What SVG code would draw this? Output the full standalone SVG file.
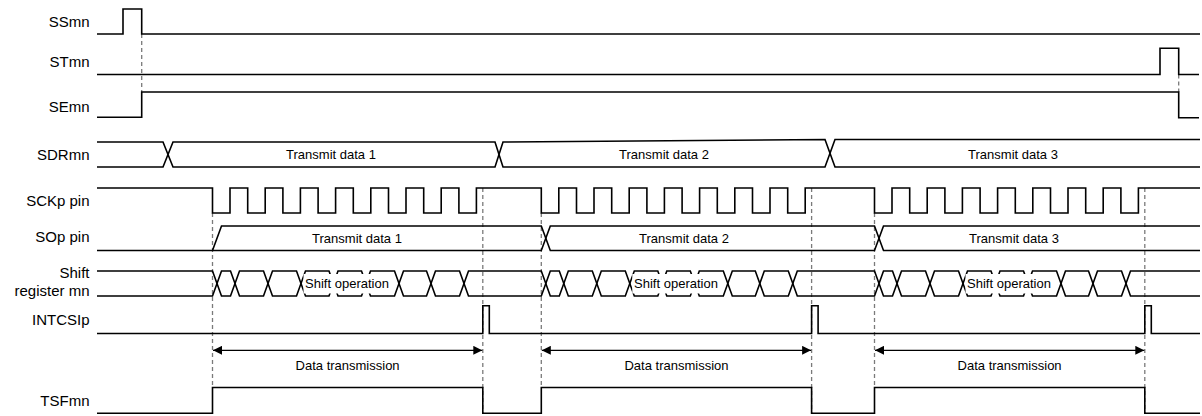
<svg xmlns="http://www.w3.org/2000/svg" width="1202" height="416" viewBox="0 0 1202 416">
<style>
.w{fill:none;stroke:#000;stroke-width:1.6;stroke-linejoin:miter}
.d{fill:none;stroke:#7a7a7a;stroke-width:1.3;stroke-dasharray:4 3}
.a{fill:none;stroke:#000;stroke-width:1.2}
.lb{font-family:"Liberation Sans",Arial,sans-serif;font-size:15px;fill:#000;text-anchor:end}
.tx{font-family:"Liberation Sans",Arial,sans-serif;font-size:13px;fill:#000;text-anchor:middle}
.bg{fill:#fff;stroke:none}
</style>
<defs>
<marker id="ah" viewBox="0 0 10 10" refX="10" refY="5" markerWidth="9" markerHeight="9" markerUnits="userSpaceOnUse" orient="auto-start-reverse">
<path d="M0,0 L10,5 L0,10 z" fill="#000"/>
</marker>
</defs>
<rect width="1202" height="416" fill="#fff"/>

<g id="connectors">
<line class="d" x1="141.7" y1="34" x2="141.7" y2="92"/>
<line class="d" x1="1178.7" y1="74.5" x2="1178.7" y2="92"/>
<line class="d" x1="212.5" y1="213" x2="212.5" y2="387.5"/>
<line class="d" x1="541.3" y1="213" x2="541.3" y2="387.5"/>
<line class="d" x1="874.5" y1="213" x2="874.5" y2="387.5"/>
<line class="d" x1="482.8" y1="188" x2="482.8" y2="413"/>
<line class="d" x1="811.6" y1="188" x2="811.6" y2="413"/>
<line class="d" x1="1144.8" y1="188" x2="1144.8" y2="413"/>
<line class="a" x1="213" y1="350.3" x2="482.3" y2="350.3" marker-start="url(#ah)" marker-end="url(#ah)"/>
<line class="a" x1="541.8" y1="350.3" x2="811.1" y2="350.3" marker-start="url(#ah)" marker-end="url(#ah)"/>
<line class="a" x1="875" y1="350.3" x2="1144.3" y2="350.3" marker-start="url(#ah)" marker-end="url(#ah)"/>
<text class="tx" x="347.6" y="370">Data transmission</text>
<text class="tx" x="676.5" y="370">Data transmission</text>
<text class="tx" x="1009.6" y="370">Data transmission</text>
</g>

<g id="SSmn">
<text class="lb" x="89.5" y="27">SSmn</text>
<path class="w" d="M97,34 H123 V9 H141.7 V34 H1200"/>
</g>

<g id="STmn">
<text class="lb" x="89.5" y="67">STmn</text>
<path class="w" d="M97,74.5 H1160 V48.3 H1178.7 V74.5 H1199"/>
</g>

<g id="SEmn">
<text class="lb" x="89.5" y="111.5">SEmn</text>
<path class="w" d="M97,117.3 H141.7 V92 H1178.7 V117.7 H1199"/>
</g>

<g id="SDRmn">
<text class="lb" x="89.5" y="159.5">SDRmn</text>
<path class="w" d="M97,142 H163 L173,167 H495 L503,142 L825,139.5 L835,167 H1200"/>
<path class="w" d="M97,167 H163 L173,142 H495 L503,167 H825 L835,139.5 H1200"/>
<text class="tx" x="331" y="159">Transmit data 1</text>
<text class="tx" x="664" y="159">Transmit data 2</text>
<text class="tx" x="1013" y="159">Transmit data 3</text>
</g>

<g id="SCKp">
<text class="lb" x="89.5" y="206">SCKp pin</text>
<path class="w" d="M97,188 H212.5 V213 H230 V188 H247.7 V213 H265.2 V188 H282.9 V213 H300.4 V188 H318.1 V213 H335.6 V188 H353.3 V213 H370.8 V188 H388.5 V213 H406 V188 H423.7 V213 H441.2 V188 H458.9 V213 H476.4 V188 H541.3 V213 H558.8 V188 H576.5 V213 H594 V188 H611.7 V213 H629.2 V188 H646.9 V213 H664.4 V188 H682.1 V213 H699.6 V188 H717.3 V213 H734.8 V188 H752.5 V213 H770 V188 H787.7 V213 H805.2 V188 H874.5 V213 H892 V188 H909.7 V213 H927.2 V188 H944.9 V213 H962.4 V188 H980.1 V213 H997.6 V188 H1015.3 V213 H1032.8 V188 H1050.5 V213 H1068 V188 H1085.7 V213 H1103.2 V188 H1120.9 V213 H1138.4 V188 H1200"/>
</g>

<g id="SOp">
<text class="lb" x="89.5" y="242">SOp pin</text>
<path class="w" d="M97,250.5 H212.5 L221.5,226 H541.3 L550.3,250.5 H874.5 L883.5,226 H1200"/>
<path class="w" d="M212.5,250.5 H541.3 L550.3,226 H874.5 L883.5,250.5 H1200"/>
<text class="tx" x="357" y="243">Transmit data 1</text>
<text class="tx" x="684" y="243">Transmit data 2</text>
<text class="tx" x="1014" y="243">Transmit data 3</text>
</g>

<g id="ShiftRegister">
<text class="lb" x="89.5" y="277.5">Shift</text>
<text class="lb" x="89.5" y="296">register mn</text>
<path class="w" d="M97,271 H212.5 L221.5,296 H230.5 L239.5,271 H263.5 L272.5,296 H296.5 L305.5,271 H329 L338,296 H361.5 L370.5,271 H394.5 L403.5,296 H426.5 L435.5,271 H459.5 L468.5,296 H541.3 L550.3,271 H559.3 L568.3,296 H592.3 L601.3,271 H625.3 L634.3,296 H657.8 L666.8,271 H690.3 L699.3,296 H723.3 L732.3,271 H755.3 L764.3,296 H788.3 L797.3,271 H874.5 L883.5,296 H892.5 L901.5,271 H925.5 L934.5,296 H958.5 L967.5,271 H991 L1000,296 H1023.5 L1032.5,271 H1056.5 L1065.5,296 H1088.5 L1097.5,271 H1121.5 L1130.5,296 H1200"/>
<path class="w" d="M97,296 H212.5 L221.5,271 H230.5 L239.5,296 H263.5 L272.5,271 H296.5 L305.5,296 H329 L338,271 H361.5 L370.5,296 H394.5 L403.5,271 H426.5 L435.5,296 H459.5 L468.5,271 H541.3 L550.3,296 H559.3 L568.3,271 H592.3 L601.3,296 H625.3 L634.3,271 H657.8 L666.8,296 H690.3 L699.3,271 H723.3 L732.3,296 H755.3 L764.3,271 H788.3 L797.3,296 H874.5 L883.5,271 H892.5 L901.5,296 H925.5 L934.5,271 H958.5 L967.5,296 H991 L1000,271 H1023.5 L1032.5,296 H1056.5 L1065.5,271 H1088.5 L1097.5,296 H1121.5 L1130.5,271 H1200"/>
<rect class="bg" x="303.5" y="274" width="87.5" height="19.5"/>
<rect class="bg" x="632.3" y="274" width="87.5" height="19.5"/>
<rect class="bg" x="965.5" y="274" width="87.5" height="19.5"/>
<text class="tx" x="347" y="288">Shift operation</text>
<text class="tx" x="676" y="288">Shift operation</text>
<text class="tx" x="1009" y="288">Shift operation</text>
</g>

<g id="INTCSIp">
<text class="lb" x="89.5" y="325">INTCSIp</text>
<path class="w" d="M97,333.5 H482.8 V305.7 H489.3 V333.5 H811.6 V305.7 H818.1 V333.5 H1144.8 V305.7 H1151.3 V333.5 H1200"/>
</g>

<g id="TSFmn">
<text class="lb" x="89.5" y="406">TSFmn</text>
<path class="w" d="M97,413.3 H212.5 V387.5 H482.8 V413.3 H541.3 V387.5 H811.6 V413.3 H874.5 V387.5 H1144.8 V413.3 H1200"/>
</g>
</svg>
